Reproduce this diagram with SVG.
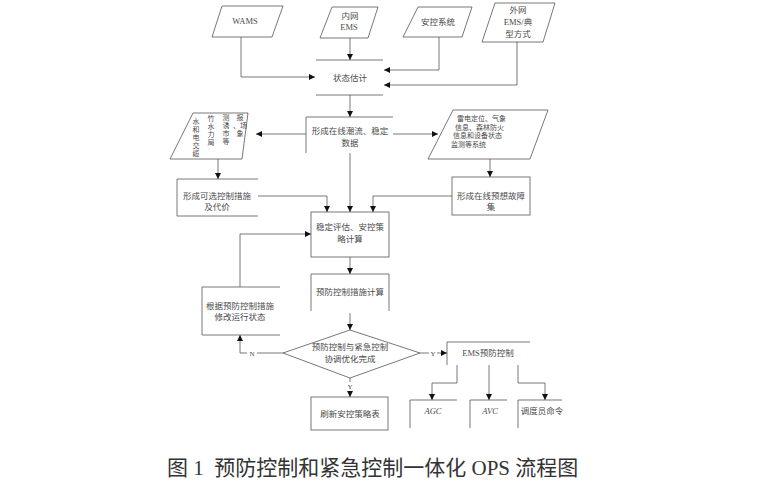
<svg xmlns="http://www.w3.org/2000/svg" width="781" height="498" viewBox="0 0 781 498">
<defs>
<marker id="ah" markerUnits="userSpaceOnUse" markerWidth="6" markerHeight="6" refX="6" refY="3" orient="auto">
<path d="M0,0 L6,3 L0,6 Z" fill="#111"/>
</marker>
<style>
.s{fill:none;stroke:#555;stroke-width:0.8}
.c{fill:none;stroke:#555;stroke-width:0.8;marker-end:url(#ah)}
.c2{fill:none;stroke:#555;stroke-width:0.8}
text{font-family:"Liberation Serif","Noto Sans CJK SC",serif;font-size:8.5px;fill:#4a4a4a}
.m{text-anchor:middle}
.i{font-style:italic}
.v{font-size:7px}
.cap{font-size:21px;fill:#333}
</style>
</defs>
<rect width="781" height="498" fill="#fff"/>

<g id="wams">
<polygon class="s" points="222,6 283,6 272,37 212,37"/>
<text class="m" x="245" y="24">WAMS</text>
</g>
<g id="ems-in">
<polygon class="s" points="332,7 378,7 368,38 320,38"/>
<text class="m" x="350" y="19">内网</text>
<text class="m" x="349" y="30">EMS</text>
</g>
<g id="ankong">
<polygon class="s" points="418,7 472,7 462,37 403,37"/>
<text class="m" x="438" y="25">安控系统</text>
</g>
<g id="ems-out">
<polygon class="s" points="495,3 555,3 543,42 482,42"/>
<text class="m" x="518" y="13">外网</text>
<text class="m" x="518" y="25">EMS/典</text>
<text class="m" x="518" y="37">型方式</text>
</g>
<g id="state">
<path class="s" d="M316,60 H383 M316,95 H383"/>
<text class="m" x="350" y="81">状态估计</text>
</g>
<g id="flow-data">
<path class="s" d="M306,153 V117 H393"/>
<text class="m" x="350" y="134">形成在线潮流、稳定</text>
<text class="m" x="350" y="146">数据</text>
</g>
<g id="left-para">
<polygon class="s" points="193,113 248,113 242,159 170,159"/>
<text class="m v" x="196" y="124">水</text>
<text class="m v" x="196" y="132">和</text>
<text class="m v" x="196" y="140">电</text>
<text class="m v" x="196" y="148">交</text>
<text class="m v" x="196" y="156">缆</text>
<text class="m v" x="211" y="121">竹</text>
<text class="m v" x="211" y="129">水</text>
<text class="m v" x="211" y="137">力</text>
<text class="m v" x="211" y="145">局</text>
<text class="m v" x="226" y="120">测</text>
<text class="m v" x="226" y="128">诱</text>
<text class="m v" x="226" y="136">市</text>
<text class="m v" x="226" y="144">等</text>
<text class="m v" x="240" y="120">报</text>
<text class="m v" x="240" y="128">、场</text>
<text class="m v" x="240" y="136">象</text>
</g>
<g id="right-para">
<polygon class="s" points="453,110 548,110 530,159 428,159"/>
<text class="v" x="457" y="121">雷电定位、气象</text>
<text class="v" x="455" y="129.5">信息、森林防火</text>
<text class="v" x="453" y="138">信息和设备状态</text>
<text class="v" x="451" y="146.5">监测等系统</text>
</g>
<g id="opt-measures">
<path class="s" d="M258,179 H177 V216 H258"/>
<text class="m" x="217" y="199">形成可选控制措施</text>
<text class="m" x="217" y="210">及代价</text>
</g>
<g id="fault-set">
<rect class="s" x="452" y="177" width="78" height="38"/>
<text class="m" x="491" y="199">形成在线预想故障</text>
<text class="m" x="491" y="210">集</text>
</g>
<g id="eval">
<rect class="s" x="311" y="212" width="78" height="45"/>
<text class="m" x="350" y="230">稳定评估、安控策</text>
<text class="m" x="350" y="242">略计算</text>
</g>
<g id="prev-calc">
<path class="s" d="M311,311 V274 H389 V311"/>
<text class="m" x="350" y="295">预防控制措施计算</text>
</g>
<g id="modify">
<path class="s" d="M280,287 H202 V335 H280"/>
<text class="m" x="240" y="309">根据预防控制措施</text>
<text class="m" x="240" y="320">修改运行状态</text>
</g>
<g id="decision">
<polygon class="s" points="350,330 420,353 350,378 283,353"/>
<text class="m" x="350" y="350">预防控制与紧急控制</text>
<text class="m" x="350" y="362">协调优化完成</text>
</g>
<g id="refresh">
<rect class="s" x="311" y="397" width="77" height="33"/>
<text class="m" x="350" y="417">刷新安控策略表</text>
</g>
<g id="ems-prev">
<path class="s" d="M447,365 V342 H530"/>
<text class="m" x="488" y="356">EMS预防控制</text>
</g>
<g id="agc">
<path class="s" d="M410,428 V400 H457"/>
<text class="m i" x="433" y="414">AGC</text>
</g>
<g id="avc">
<path class="s" d="M470,428 V400 H507"/>
<text class="m i" x="490" y="414">AVC</text>
</g>
<g id="dispatch">
<path class="s" d="M518,428 V400 H562"/>
<text class="m" x="542" y="414">调度员命令</text>
</g>

<g id="connectors">
<path class="c" d="M241,37 V77 H315"/>
<path class="c" d="M350,38 V60"/>
<path class="c" d="M439,37 V70 H384"/>
<path class="c" d="M517,42 V85 H384"/>
<path class="c" d="M350,95 V117"/>
<path class="c" d="M306,134 H256"/>
<path class="c" d="M393,134 H438"/>
<path class="c" d="M350,153 V212"/>
<path class="c" d="M218,159 V179"/>
<path class="c" d="M490,159 V177"/>
<path class="c" d="M258,196 H327 V212"/>
<path class="c" d="M452,196 H373 V212"/>
<path class="c" d="M350,257 V274"/>
<path class="c" d="M350,313 V330"/>
<path class="c2" d="M283,353 H257"/>
<path class="c" d="M247,353 H240 V335"/>
<text class="m" x="252" y="356" style="font-size:7px">N</text>
<path class="c" d="M240,287 V234 H311"/>
<path class="c2" d="M420,353 H429"/>
<text class="m" x="433" y="356" style="font-size:7px">Y</text>
<path class="c" d="M437,353 H447"/>
<path class="c2" d="M350,378 V382"/>
<text class="m" x="350" y="389" style="font-size:7px">Y</text>
<path class="c" d="M350,391 V397"/>
<path class="c" d="M457,365 V383 H432 V400"/>
<path class="c" d="M489,365 V400"/>
<path class="c" d="M518,365 V383 H545 V400"/>
</g>

<text class="cap" x="167" y="475">图 1&#160; 预防控制和紧急控制一体化 OPS 流程图</text>
</svg>
